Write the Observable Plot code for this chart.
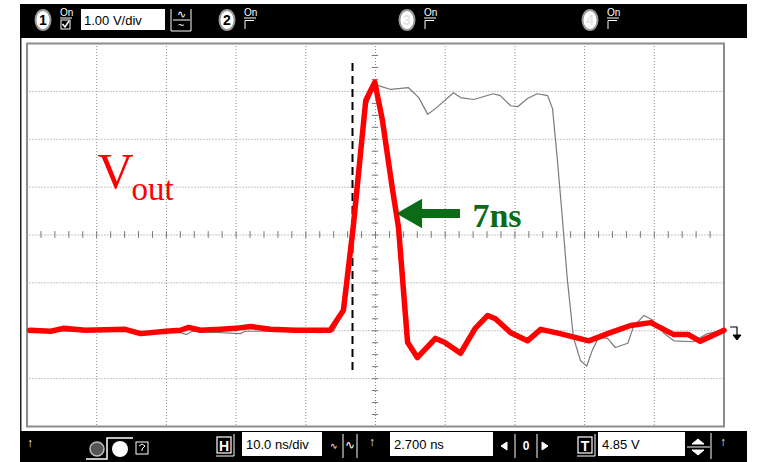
<!DOCTYPE html>
<html><head><meta charset="utf-8">
<script src="https://cdn.jsdelivr.net/npm/d3@7"></script>
<script src="https://cdn.jsdelivr.net/npm/@observablehq/plot@0.6"></script>
<style>body{margin:0;background:#fff}#chart{width:757px;height:462px}</style>
</head><body><div id="chart"></div>
<script>
// ---- data (time in ns, voltage in V; 10 ns/div, 1 V/div) ----
const redT = [-49.6,-46.6,-44.8,-41.6,-35.9,-33.7,-30.1,-28.0,-26.8,-25.1,-22.2,-20.1,-17.9,-15.1,-11.5,-6.5,-4.6,-3.2,-1.4,-0.1,1.0,2.4,3.3,4.6,6.0,8.6,9.9,12.2,14.3,16.1,17.2,19.4,21.8,23.7,26.5,30.6,33.7,36.6,39.5,42.8,44.9,46.6,50];
const redV = [-1.99,-2.01,-1.95,-1.99,-1.97,-2.06,-2.01,-1.99,-1.93,-1.99,-1.97,-1.95,-1.91,-1.97,-1.99,-1.99,-1.57,0.16,2.81,3.19,2.39,0.99,0.16,-2.24,-2.56,-2.16,-2.24,-2.47,-1.95,-1.68,-1.75,-2.04,-2.21,-1.97,-2.06,-2.21,-2.04,-1.89,-1.83,-2.08,-2.08,-2.22,-1.99];
const greyT = [-49.5,-45.2,-39.5,-33.7,-28.0,-27.1,-26.3,-19.4,-18.7,-12.2,-7.9,-6.0,-4.7,-3.2,-1.4,0,0.4,2.2,4.7,6.2,7.5,8.6,11.2,12.2,14.1,16.9,17.9,19.4,20.4,21.8,23.2,24.7,25.4,26.1,26.8,27.5,28.4,29.4,30.3,31.1,32.0,33.3,34.4,36.2,37.0,38.5,39.7,41.3,42.8,45.6,47.6,50];
const greyV = [-2.01,-2.01,-2.01,-2.01,-2.04,-2.08,-2.01,-2.06,-2.01,-2.01,-2.04,-2.01,-1.62,0.09,2.64,3.19,3.12,3.04,3.08,2.87,2.52,2.64,2.97,2.87,2.83,2.95,2.91,2.70,2.68,2.85,2.95,2.91,2.64,1.56,0.37,-0.89,-2.14,-2.62,-2.74,-2.41,-2.14,-2.16,-2.35,-2.26,-1.92,-1.68,-1.77,-2.04,-2.21,-2.23,-2.06,-1.99];
const cursorT = [-3.3];
const cursorV = [3.58, -2.87];
const xGrid = [-40,-30,-20,-10,0,10,20,30,40];
const yGrid = [-3,-2,-1,0,1,2,3];
const xMinor = d3.range(-48, 49, 2);
const yMinor = d3.range(-3.75, 3.8, 0.25);
const labelV = [{t:-39.9, v:0.99, s:"V"}];
const labelOut = [{t:-35.0, v:0.74, s:"out"}];
const label7 = [{t:13.9, v:0.16, s:"7ns"}];
const arrowShaft = [{t1:6.0, t2:12.2, v:0.45}];
const arrowHead = [{t:5.45, v:0.45}];
const topChannels = [{cx:43,label:"1",on:true},{cx:227,label:"2"},{cx:407,label:"3",dim:true},{cx:590,label:"4",dim:true}];

const red = redT.map((t,i)=>({t, v:redV[i]}));
const grey = greyT.map((t,i)=>({t, v:greyV[i]}));

const plot = Plot.plot({
  width: 757, height: 462,
  marginLeft: 26.5, marginRight: 33.5, marginTop: 43, marginBottom: 36,
  x: {domain: [-50, 50], axis: null},
  y: {domain: [-4, 4], axis: null},
  style: {background: "#fff"},
  marks: [
    Plot.ruleX(xGrid, {x: d=>d, stroke: "#8a8a8a", strokeWidth: 1, strokeDasharray: "1,2"}),
    Plot.ruleY(yGrid, {y: d=>d, stroke: "#8a8a8a", strokeWidth: 1, strokeDasharray: "1,2"}),
    Plot.ruleX(xMinor, {x: d=>d, y1: ()=>-0.07, y2: ()=>0.07, stroke: "#777"}),
    Plot.ruleY(yMinor, {y: d=>d, x1: ()=>-0.45, x2: ()=>0.45, stroke: "#777"}),
    Plot.frame({stroke: "#8c8c8c", strokeWidth: 2}),
    Plot.line(grey, {x: "t", y: "v", stroke: "#7a7a7a", strokeWidth: 1.2}),
    Plot.ruleX(cursorT, {x: d=>d, y1: ()=>cursorV[0], y2: ()=>cursorV[1], stroke: "#000", strokeWidth: 2, strokeDasharray: "8,5"}),
    Plot.line(red, {x: "t", y: "v", stroke: "#ff0000", strokeWidth: 5.5, strokeLinejoin: "round", strokeLinecap: "round"}),
    Plot.ruleY(arrowShaft, {y: "v", x1: "t1", x2: "t2", stroke: "#0b6b17", strokeWidth: 9}),
    Plot.dot(arrowHead, {x: "t", y: "v", symbol: "triangle", rotate: -90, r: 11, fill: "#0b6b17", stroke: "none"}),
    Plot.text(labelV, {x: "t", y: "v", text: "s", textAnchor: "start", lineAnchor: "bottom", fontSize: 50, fontFamily: "Liberation Serif", fill: "#ff0000"}),
    Plot.text(labelOut, {x: "t", y: "v", text: "s", textAnchor: "start", lineAnchor: "bottom", fontSize: 33, fontFamily: "Liberation Serif", fill: "#ff0000"}),
    Plot.text(label7, {x: "t", y: "v", text: "s", textAnchor: "start", lineAnchor: "bottom", fontSize: 34, fontWeight: "bold", fontFamily: "Liberation Serif", fill: "#0b6b17"})
  ]
});
document.getElementById("chart").appendChild(plot);

// ---- oscilloscope chrome ----
const FONT = "'Liberation Sans Narrow','Liberation Sans',Arial,sans-serif";
const svg = d3.select(plot);
const ui = svg.append("g").attr("font-family", FONT);
const rect = (x,y,w,h,fill,stroke,sw)=>ui.append("rect").attr("x",x).attr("y",y).attr("width",w).attr("height",h).attr("fill",fill||"none").attr("stroke",stroke||"none").attr("stroke-width",sw||1);
const txt = (x,y,s,size,fill,anchor,weight)=>ui.append("text").attr("x",x).attr("y",y).attr("font-size",size).attr("fill",fill).attr("text-anchor",anchor||"start").attr("font-weight",weight||"normal").text(s);
const path = (d,stroke,sw,fill)=>ui.append("path").attr("d",d).attr("stroke",stroke||"none").attr("stroke-width",sw||1).attr("fill",fill||"none");

rect(20,4,727,34,"#000");
rect(20,431,727,31,"#000");
rect(20,38,1.5,393,"#222");

topChannels.forEach(c=>{
  ui.append("ellipse").attr("cx",c.cx).attr("cy",20).attr("rx",7.5).attr("ry",10).attr("fill","#fff").attr("stroke","#9a9a9a").attr("stroke-width",2);
  txt(c.cx,25,c.label,14,c.dim?"#e4e4e4":"#000","middle","bold");
  txt(c.cx+17,16,"On",10,"#fff");
  path(`M${c.cx+17},18H${c.cx+29}`,"#fff",1);
  if (c.on) {
    rect(c.cx+18,20,9,9,"none","#fff",1);
    path(`M${c.cx+19.5},24l2.5,3l4,-6`,"#fff",1.5);
  } else {
    path(`M${c.cx+18},29V20.5H${c.cx+27}`,"#fff",1);
  }
});
rect(81,9,84,21,"#fff");
txt(84,24.5,"1.00 V/div",13,"#000");
path("M171,9V31M191,9V31M173,20H190M171,31H191","#fff",1);
txt(181,18,"∿",11,"#fff","middle");
txt(181,29,"~",11,"#fff","middle");

// bottom bar
txt(30,447,"↑",12,"#fff","middle");
ui.append("circle").attr("cx",97).attr("cy",449).attr("r",7).attr("fill","#555").attr("stroke","#bbb").attr("stroke-width",1.5);
path("M86,459H107V438H133","#fff",1.5);
ui.append("circle").attr("cx",120).attr("cy",449).attr("r",8).attr("fill","#fff");
rect(136,442,12,12,"none","#fff",1);
path("M139,446l3,-2l3,2l-3,3v2","#fff",1);
[[217,"H"],[578,"T"]].forEach(([x,s])=>{
  rect(x,437,14,16,"none","#fff",1.2);
  txt(x+7,451,s,14,"#fff","middle","bold");
  path(`M${x-1},456H${x+17}V434`,"#fff",1);
});
rect(242,432,80,24,"#fff");
txt(246,449,"10.0 ns/div",13,"#000");
txt(334,449,"∿",9,"#fff","middle");
path("M343,434V458M357,434V458","#fff",1);
txt(350,449,"∿",12,"#fff","middle");
txt(372,446,"↑",12,"#fff","middle");
rect(390,432,103,24,"#fff");
txt(394,449,"2.700 ns",13,"#000");
path("M501,446l6,-4v8z","#fff",1,"#fff");
path("M515,434V458M537,434V458","#fff",1);
txt(526,450,"0",12,"#fff","middle","bold");
path("M548,446l-6,-4v8z","#fff",1,"#fff");
rect(598,432,87,24,"#fff");
txt(602,449,"4.85 V",13,"#000");
path("M692,444l6,-5l6,5z","#fff",1,"#fff");
path("M692,450l6,5l6,-5z","#fff",1,"#fff");
path("M687,447H710M711,433V459","#fff",1);
txt(723,446,"↑",12,"#fff","middle");

// ground / level marker at right edge
path("M730,327H737V337","#000",1.2);
path("M733,335H741L737,340z","#000",1,"#000");
</script>
</body></html>
